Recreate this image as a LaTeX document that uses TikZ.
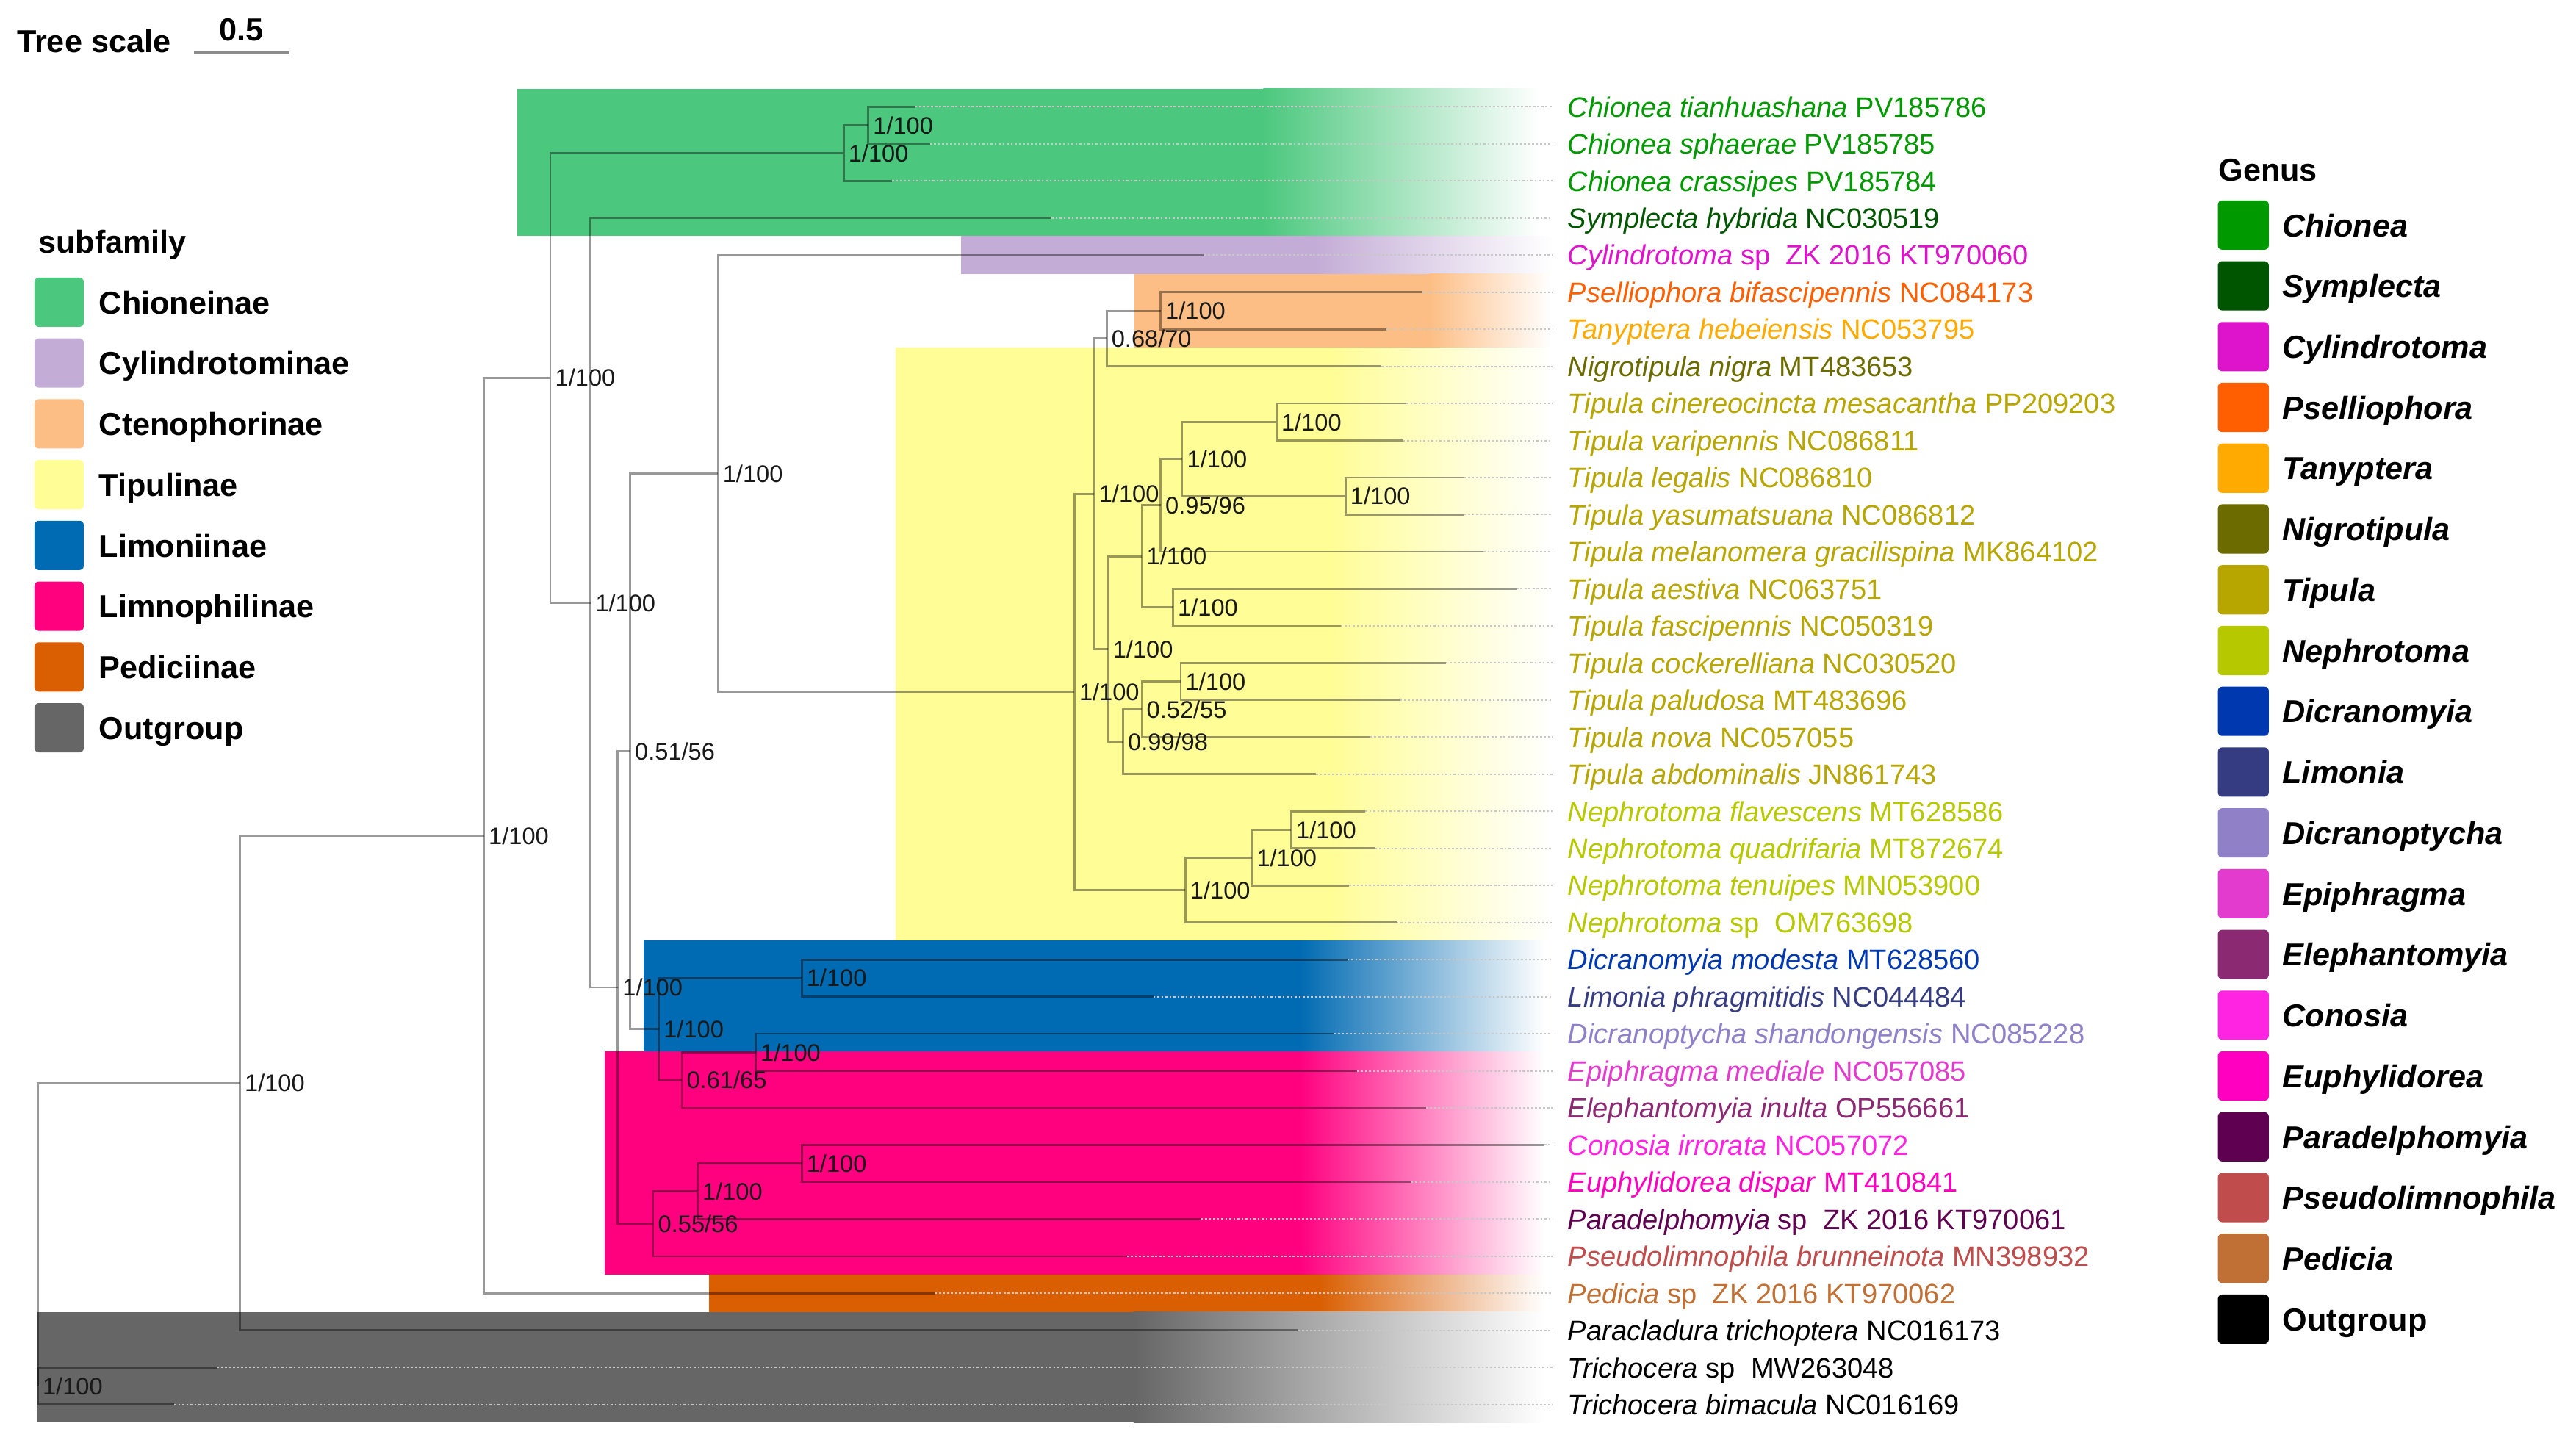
\documentclass[tikz,border=0pt]{standalone}
\usepackage{fontspec}
\setmainfont{Liberation Sans}
\definecolor{sChi}{RGB}{76,200,126}
\definecolor{sCyl}{RGB}{195,172,214}
\definecolor{sCte}{RGB}{253,190,133}
\definecolor{sTip}{RGB}{255,253,150}
\definecolor{sLim}{RGB}{0,106,178}
\definecolor{sLmn}{RGB}{255,0,127}
\definecolor{sPed}{RGB}{217,95,2}
\definecolor{sOut}{RGB}{102,102,102}
\definecolor{gChi}{RGB}{0,153,0}
\definecolor{gSym}{RGB}{0,85,0}
\definecolor{gCyl}{RGB}{222,20,205}
\definecolor{gPse}{RGB}{255,95,0}
\definecolor{gTan}{RGB}{255,170,0}
\definecolor{gNig}{RGB}{107,107,0}
\definecolor{gTip}{RGB}{183,165,0}
\definecolor{gNep}{RGB}{182,200,0}
\definecolor{gDic}{RGB}{0,56,176}
\definecolor{gLim}{RGB}{54,60,130}
\definecolor{gDpt}{RGB}{143,128,200}
\definecolor{gEpi}{RGB}{228,59,207}
\definecolor{gEle}{RGB}{139,42,114}
\definecolor{gCon}{RGB}{255,36,226}
\definecolor{gEup}{RGB}{255,0,192}
\definecolor{gPar}{RGB}{96,0,80}
\definecolor{gPsl}{RGB}{192,76,76}
\definecolor{gPed}{RGB}{192,112,52}
\definecolor{gOut}{RGB}{0,0,0}
\begin{document}
\begin{tikzpicture}[x=0.02cm,y=-0.02cm,
  br/.style={draw=black,draw opacity=0.4,line width=0.7pt},
  lead/.style={draw=black!22,line width=0.5pt,dash pattern=on 0.7pt off 0.7pt},
  sup/.style={font=\fontsize{8.3}{9}\selectfont,anchor=west,inner sep=0pt,xshift=1.5pt,text=black!90},
  leaf/.style={font=\fontsize{9.7}{11}\selectfont,anchor=base west,inner sep=0pt,yshift=-3.5pt},
  leg/.style={font=\fontsize{11}{13}\selectfont\bfseries,anchor=base west,inner sep=0pt,yshift=-4pt},
  sw/.style={rounded corners=1.5pt}]
\useasboundingbox (0,0) rectangle (1568,883);
% ---------- clade boxes ----------
\newcommand{\cladebox}[6]{%
  \fill[#1] (#2,#3) rectangle (#4+0.5,#6);
  \shade[left color=#1,right color=white] (#4,#3) rectangle (#5,#6);}
\cladebox{sChi}{315}{54}{769}{937}{143.7}
\cladebox{sCyl}{585}{143.7}{800}{945}{166.7}
\cladebox{sCte}{690.6}{166.7}{870}{944}{211.6}
\cladebox{sTip}{545}{211.6}{810}{945}{572.6}
\cladebox{sLim}{391.6}{572.6}{791}{940}{640}
\cladebox{sLmn}{368}{640}{791}{940}{776}
\cladebox{sPed}{431.6}{776}{803}{940}{798.6}
\cladebox{sOut}{23}{798.6}{690}{940}{866}
% ---------- leaves ----------
\foreach \i/\tx/\col/\lab in {
 1/557/gChi/{\textit{Chionea tianhuashana} PV185786},
 2/566/gChi/{\textit{Chionea sphaerae} PV185785},
 3/543/gChi/{\textit{Chionea crassipes} PV185784},
 4/640/gSym/{\textit{Symplecta hybrida} NC030519},
 5/733/gCyl/{\textit{Cylindrotoma} sp\ \ ZK 2016 KT970060},
 6/866/gPse/{\textit{Pselliophora bifascipennis} NC084173},
 7/844/gTan/{\textit{Tanyptera hebeiensis} NC053795},
 8/841/gNig/{\textit{Nigrotipula nigra} MT483653},
 9/856/gTip/{\textit{Tipula cinereocincta mesacantha} PP209203},
 10/854/gTip/{\textit{Tipula varipennis} NC086811},
 11/891/gTip/{\textit{Tipula legalis} NC086810},
 12/891/gTip/{\textit{Tipula yasumatsuana} NC086812},
 13/903/gTip/{\textit{Tipula melanomera gracilispina} MK864102},
 14/923/gTip/{\textit{Tipula aestiva} NC063751},
 15/816/gTip/{\textit{Tipula fascipennis} NC050319},
 16/880/gTip/{\textit{Tipula cockerelliana} NC030520},
 17/852/gTip/{\textit{Tipula paludosa} MT483696},
 18/834/gTip/{\textit{Tipula nova} NC057055},
 19/801/gTip/{\textit{Tipula abdominalis} JN861743},
 20/831/gNep/{\textit{Nephrotoma flavescens} MT628586},
 21/837/gNep/{\textit{Nephrotoma quadrifaria} MT872674},
 22/821/gNep/{\textit{Nephrotoma tenuipes} MN053900},
 23/850/gNep/{\textit{Nephrotoma} sp\ \ OM763698},
 24/820/gDic/{\textit{Dicranomyia modesta} MT628560},
 25/702/gLim/{\textit{Limonia phragmitidis} NC044484},
 26/812/gDpt/{\textit{Dicranoptycha shandongensis} NC085228},
 27/826/gEpi/{\textit{Epiphragma mediale} NC057085},
 28/868/gEle/{\textit{Elephantomyia inulta} OP556661},
 29/940/gCon/{\textit{Conosia irrorata} NC057072},
 30/859/gEup/{\textit{Euphylidorea dispar} MT410841},
 31/731/gPar/{\textit{Paradelphomyia} sp\ \ ZK 2016 KT970061},
 32/686/gPsl/{\textit{Pseudolimnophila brunneinota} MN398932},
 33/569/gPed/{\textit{Pedicia} sp\ \ ZK 2016 KT970062},
 34/790/gOut/{\textit{Paracladura trichoptera} NC016173},
 35/132/gOut/{\textit{Trichocera} sp\ \ MW263048},
 36/106/gOut/{\textit{Trichocera bimacula} NC016169}} {
  \pgfmathsetmacro\yy{65+(\i-1)*22.571}
  \coordinate (n\i) at (\tx,\yy);
  \coordinate (e\i) at (945,\yy);
  \node[leaf,text=\col] (L\i) at (954,\yy) {\lab};
  \draw[lead] (n\i) -- (e\i);
}
% ---------- internal nodes ----------
\coordinate (nR) at (23,751.5);
\coordinate (nTR) at (23,843.7);
\coordinate (nA) at (146,659.3);
\coordinate (nB) at (294.5,508.7);
\coordinate (nC) at (335,230.0);
\coordinate (nCa) at (513.5,93.2);
\coordinate (nCb) at (528.5,76.3);
\coordinate (nD) at (359.5,366.9);
\coordinate (nE) at (376,601.1);
\coordinate (nF) at (383.5,457.3);
\coordinate (nH) at (437,288.2);
\coordinate (nT) at (654,421.2);
\coordinate (nU) at (666,300.6);
\coordinate (nW) at (673.6,206.1);
\coordinate (nY) at (706.4,189.2);
\coordinate (nX) at (674.5,395.1);
\coordinate (nZ) at (695,338.7);
\coordinate (nAG) at (706.4,307.6);
\coordinate (nAB) at (719.6,279.4);
\coordinate (nAD) at (777,256.9);
\coordinate (nAF) at (819,302.0);
\coordinate (nAC) at (714,369.7);
\coordinate (nAA) at (683.6,451.5);
\coordinate (nAH) at (695,431.8);
\coordinate (nAI) at (718.7,414.9);
\coordinate (nV) at (721.5,541.8);
\coordinate (nAJ) at (762,522.1);
\coordinate (nAK) at (786,505.1);
\coordinate (nI) at (401,626.4);
\coordinate (nJ) at (488,595.4);
\coordinate (nK) at (415,657.5);
\coordinate (nL) at (460,640.6);
\coordinate (nG) at (397.6,745.0);
\coordinate (nM) at (424.6,725.2);
\coordinate (nN) at (488,708.3);
% ---------- branches ----------
\foreach \p/\c in {R/A,R/TR,TR/35,TR/36,A/B,A/34,B/C,B/33,C/Ca,C/D,Ca/Cb,Ca/3,
  Cb/1,Cb/2,D/4,D/E,E/F,E/G,F/H,F/I,H/5,H/T,T/U,T/V,U/W,U/X,W/Y,W/8,Y/6,Y/7,
  X/Z,X/AA,Z/AG,Z/AC,AG/AB,AG/13,AB/AD,AB/AF,AD/9,AD/10,AF/11,AF/12,AC/14,AC/15,
  AA/AH,AA/19,AH/AI,AH/18,AI/16,AI/17,V/AJ,V/23,AJ/AK,AJ/22,AK/20,AK/21,
  I/J,I/K,J/24,J/25,K/L,K/28,L/26,L/27,G/M,G/32,M/N,M/31,N/29,N/30}
  \draw[br] (n\p) |- (n\c);
% ---------- support values ----------
\node[sup] (sTR) at (nTR) {1/100};
\node[sup] (sA) at (nA) {1/100};
\node[sup] (sB) at (nB) {1/100};
\node[sup] (sC) at (nC) {1/100};
\node[sup] (sCa) at (nCa) {1/100};
\node[sup] (sCb) at (nCb) {1/100};
\node[sup] (sD) at (nD) {1/100};
\node[sup] (sE) at (nE) {1/100};
\node[sup] (sF) at (nF) {0.51/56};
\node[sup] (sH) at (nH) {1/100};
\node[sup] (sT) at (nT) {1/100};
\node[sup] (sU) at (nU) {1/100};
\node[sup] (sW) at (nW) {0.68/70};
\node[sup] (sY) at (nY) {1/100};
\node[sup] (sX) at (nX) {1/100};
\node[sup] (sZ) at (nZ) {1/100};
\node[sup] (sAG) at (nAG) {0.95/96};
\node[sup] (sAB) at (nAB) {1/100};
\node[sup] (sAD) at (nAD) {1/100};
\node[sup] (sAF) at (nAF) {1/100};
\node[sup] (sAC) at (nAC) {1/100};
\node[sup] (sAA) at (nAA) {0.99/98};
\node[sup] (sAH) at (nAH) {0.52/55};
\node[sup] (sAI) at (nAI) {1/100};
\node[sup] (sV) at (nV) {1/100};
\node[sup] (sAJ) at (nAJ) {1/100};
\node[sup] (sAK) at (nAK) {1/100};
\node[sup] (sI) at (nI) {1/100};
\node[sup] (sJ) at (nJ) {1/100};
\node[sup] (sK) at (nK) {0.61/65};
\node[sup] (sL) at (nL) {1/100};
\node[sup] (sG) at (nG) {0.55/56};
\node[sup] (sM) at (nM) {1/100};
\node[sup] (sN) at (nN) {1/100};
% ---------- tree scale ----------
\node[leg] (ts) at (10,25) {Tree scale};
\coordinate (sb1) at (118,32);
\coordinate (sb2) at (176,32);
\draw[black!45,line width=0.9pt] (sb1) -- (sb2);
\node[font=\fontsize{11}{13}\selectfont\bfseries,inner sep=0pt] (tsv) at (147,18) {0.5};
% ---------- subfamily legend ----------
\node[leg] (subt) at (23,147) {subfamily};
\foreach \k/\nm/\col in {0/Chioneinae/sChi,1/Cylindrotominae/sCyl,2/Ctenophorinae/sCte,
  3/Tipulinae/sTip,4/Limoniinae/sLim,5/Limnophilinae/sLmn,6/Pediciinae/sPed,7/Outgroup/sOut} {
  \pgfmathsetmacro\yy{184+\k*37}
  \fill[sw,\col] (21,\yy-15) rectangle (51,\yy+15);
  \node[leg] (sf\k) at (60,\yy) {\nm};
}
% ---------- genus legend ----------
\node[leg] (gent) at (1350,103) {Genus};
\foreach \k/\nm/\col in {0/Chionea/gChi,1/Symplecta/gSym,2/Cylindrotoma/gCyl,3/Pselliophora/gPse,
  4/Tanyptera/gTan,5/Nigrotipula/gNig,6/Tipula/gTip,7/Nephrotoma/gNep,8/Dicranomyia/gDic,
  9/Limonia/gLim,10/Dicranoptycha/gDpt,11/Epiphragma/gEpi,12/Elephantomyia/gEle,13/Conosia/gCon,
  14/Euphylidorea/gEup,15/Paradelphomyia/gPar,16/Pseudolimnophila/gPsl,17/Pedicia/gPed} {
  \pgfmathsetmacro\yy{137+\k*37}
  \fill[sw,\col] (1350,\yy-15) rectangle (1381,\yy+15);
  \node[leg,font=\fontsize{11}{13}\selectfont\bfseries\itshape] (gl\k) at (1389,\yy) {\nm};
}
\fill[sw,gOut] (1350,803-15) rectangle (1381,803+15);
\node[leg] (gl18) at (1389,803) {Outgroup};
\end{tikzpicture}
\end{document}
